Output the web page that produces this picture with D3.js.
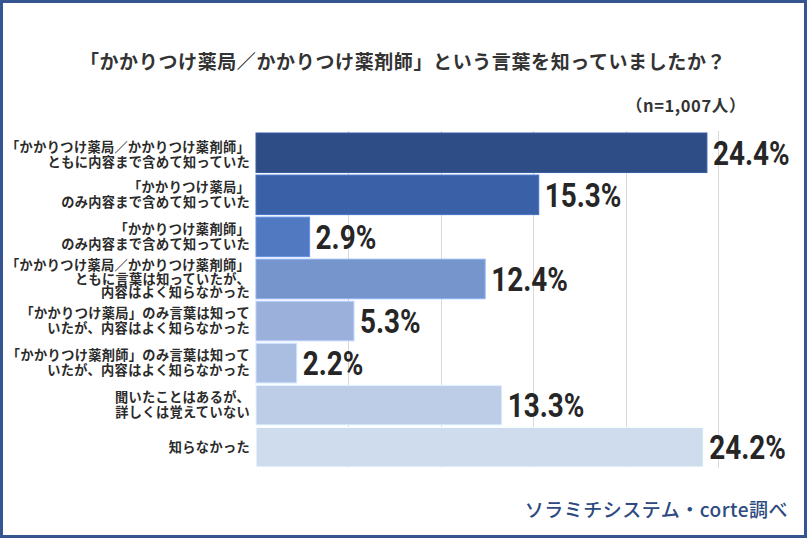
<!DOCTYPE html>
<html><head><meta charset="utf-8">
<script src="https://cdn.jsdelivr.net/npm/d3@7"></script>
<style>
html,body{margin:0;padding:0;background:#fff;}
svg{display:block;}
</style></head>
<body>
<svg id="c" width="807" height="538"></svg>
<script>
const title = "「かかりつけ薬局／かかりつけ薬剤師」という言葉を知っていましたか？";
const sampleNote = "（n=1,007人）";
const source = "ソラミチシステム・corte調べ";
const categories = [
  "「かかりつけ薬局／かかりつけ薬剤師」\nともに内容まで含めて知っていた",
  "「かかりつけ薬局」\nのみ内容まで含めて知っていた",
  "「かかりつけ薬剤師」\nのみ内容まで含めて知っていた",
  "「かかりつけ薬局／かかりつけ薬剤師」\nともに言葉は知っていたが、\n内容はよく知らなかった",
  "「かかりつけ薬局」のみ言葉は知って\nいたが、内容はよく知らなかった",
  "「かかりつけ薬剤師」のみ言葉は知って\nいたが、内容はよく知らなかった",
  "聞いたことはあるが、\n詳しくは覚えていない",
  "知らなかった"
];
const values = [24.4, 15.3, 2.9, 12.4, 5.3, 2.2, 13.3, 24.2];
const colors = ["#2E4D87","#3A60A8","#5079C2","#7595CC","#9BB0DA","#AABEE1","#BDCDE8","#CFDCEE"];
const gridTicks = [5, 10, 15, 20, 25];

const svg = d3.select("#c");
const W = 807, H = 538;
const jp = "'Noto Sans CJK JP','Noto Sans',sans-serif";

// frame
svg.append("rect").attr("x",1.5).attr("y",1.5).attr("width",W-3).attr("height",H-3)
  .attr("fill","#fff").attr("stroke","#34558F").attr("stroke-width",3);

const x = d3.scaleLinear().domain([0,25]).range([256,718]);
const y = d3.scaleBand().domain(d3.range(categories.length)).range([133,467]).paddingInner(0.06).paddingOuter(0);

// gridlines
svg.append("g").selectAll("line").data(gridTicks).join("line")
  .attr("x1",d=>Math.round(x(d))+0.5).attr("x2",d=>Math.round(x(d))+0.5)
  .attr("y1",131).attr("y2",468)
  .attr("stroke","#D9D9D9").attr("stroke-width",1);

// bars
svg.append("g").selectAll("rect").data(values).join("rect")
  .attr("x",x(0)).attr("y",(d,i)=>y(i))
  .attr("width",d=>x(d)-x(0)).attr("height",y.bandwidth())
  .attr("fill",(d,i)=>colors[i])
  .attr("stroke",(d,i)=>d3.color(colors[i]).brighter(0.5).formatHex())
  .attr("stroke-width",1);

// category labels
const lab = svg.append("g").attr("font-family",jp)
  .attr("font-size",13.2).attr("font-weight",700).attr("fill","#2b2b2b")
  .attr("text-anchor","end").attr("letter-spacing",0.35);
categories.forEach((c,i)=>{
  const lines = c.split("\n");
  const lh = lines.length>2 ? 13.4 : 15;
  const cy = y(i)+y.bandwidth()/2 + (i===0?2:0);
  const t = lab.append("text").attr("x",250);
  lines.forEach((ln,k)=>{
    t.append("tspan").attr("x",250)
     .attr("y",cy + (k-(lines.length-1)/2)*lh)
     .attr("dy","0.36em").text(ln);
  });
});

// value labels
const vl = svg.append("g");
values.forEach((v,i)=>{
  const px = x(v)+6, py = y(i)+y.bandwidth()/2;
  vl.append("text").attr("transform",`translate(${px},${py}) scale(0.82,1)`)
    .attr("font-family","Roboto,'DejaVu Sans',sans-serif").attr("font-weight",700)
    .attr("font-size",34).attr("fill","#262626").attr("dy","0.36em")
    .text(v.toFixed(1)+"%");
});

// title
svg.append("text").attr("x",403).attr("y",62).attr("dy","0.36em").attr("text-anchor","middle")
  .attr("font-family",jp).attr("font-weight",700).attr("letter-spacing",0.6)
  .attr("font-size",19).attr("fill","#333").text(title);

// n note
svg.append("text").attr("x",746).attr("y",106).attr("dy","0.36em").attr("text-anchor","end")
  .attr("font-family",jp).attr("font-weight",700).attr("letter-spacing",0.6)
  .attr("font-size",16.5).attr("fill","#333").text(sampleNote);

// source
svg.append("text").attr("x",788).attr("y",510).attr("dy","0.36em").attr("text-anchor","end")
  .attr("font-family",jp).attr("font-weight",500).attr("letter-spacing",0.5)
  .attr("font-size",19).attr("fill","#2E4A80").text(source);
</script>
</body></html>
